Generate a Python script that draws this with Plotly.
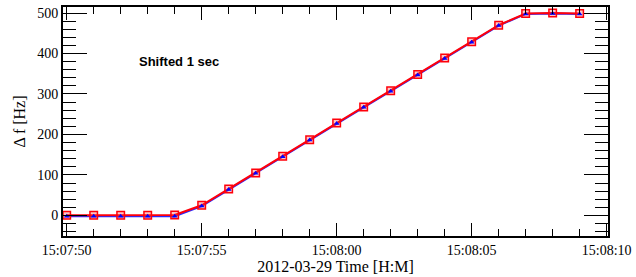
import plotly.graph_objects as go

times = ["2012-03-29 15:07:%02d" % s for s in range(50, 60)] + \
        ["2012-03-29 15:08:%02d" % s for s in range(0, 10)]
red_vals = [0, 0, 0, 0, 1, 25, 65, 105, 146, 187, 228, 268, 308, 348, 389, 429, 470, 499, 500, 499]
blue_vals = [-2, -2, -2, -2, -2, 23, 64, 104, 145, 186, 227, 267, 307, 347, 388, 428, 469, 498, 499, 498]
y_ticks = [0, 100, 200, 300, 400, 500]

fig = go.Figure()
fig.add_trace(go.Scatter(
    x=times, y=blue_vals, mode="lines",
    line=dict(color="rgb(40,40,255)", width=2),
    showlegend=False))
fig.add_trace(go.Scatter(
    x=times, y=red_vals, mode="lines+markers",
    line=dict(color="rgb(255,0,10)", width=2),
    marker=dict(symbol="square", size=7.5, color="rgba(255,60,60,0.3)",
                line=dict(color="rgb(255,0,10)", width=1.5)),
    showlegend=False))
fig.add_trace(go.Scatter(
    x=times, y=blue_vals, mode="markers",
    marker=dict(symbol="triangle-up", size=5, color="blue", line=dict(width=0)),
    showlegend=False))

fig.add_annotation(x=0.136, y=0.76, xref="paper", yref="paper",
                   text="<b>Shifted 1 sec</b>", showarrow=False,
                   xanchor="left", yanchor="middle",
                   font=dict(family="Liberation Sans", size=13, color="black"))

axis_font = dict(family="Liberation Serif", size=14, color="black")
fig.update_layout(
    template="none",
    width=636, height=277,
    margin=dict(l=63, r=28, t=7, b=41),
    paper_bgcolor="white", plot_bgcolor="white",
    font=axis_font,
    xaxis=dict(
        type="date",
        range=["2012-03-29 15:07:49.863", "2012-03-29 15:08:10.05"],
        tickformat="%H:%M:%S", dtick=5000, tick0="2012-03-29 15:07:50",
        ticks="inside", ticklen=13, tickwidth=1, tickcolor="black",
        minor=dict(dtick=1000, ticks="inside", ticklen=7, tickcolor="black", tickwidth=1, showgrid=False),
        showline=True, linewidth=2, linecolor="black", mirror="allticks",
        showgrid=False, zeroline=False, automargin=False,
        tickfont=axis_font,
        title=dict(text="2012-03-29 Time [H:M]", font=dict(family="Liberation Serif", size=16, color="black"), standoff=4),
    ),
    yaxis=dict(
        range=[-51, 515],
        tickvals=y_ticks,
        ticks="inside", ticklen=24, tickwidth=1, tickcolor="black",
        minor=dict(dtick=20, tick0=0, ticks="inside", ticklen=13, tickcolor="black", tickwidth=1, showgrid=False),
        showline=True, linewidth=2, linecolor="black", mirror="allticks",
        showgrid=False, zeroline=False, automargin=False,
        tickfont=axis_font,
        title=dict(text="Δ f [Hz]", font=dict(family="Liberation Serif", size=16, color="black"), standoff=8),
    ),
)

fig.write_html("out.html", config={"displayModeBar": False},
               post_script="document.body.style.margin='0';document.body.style.overflow='hidden';")
